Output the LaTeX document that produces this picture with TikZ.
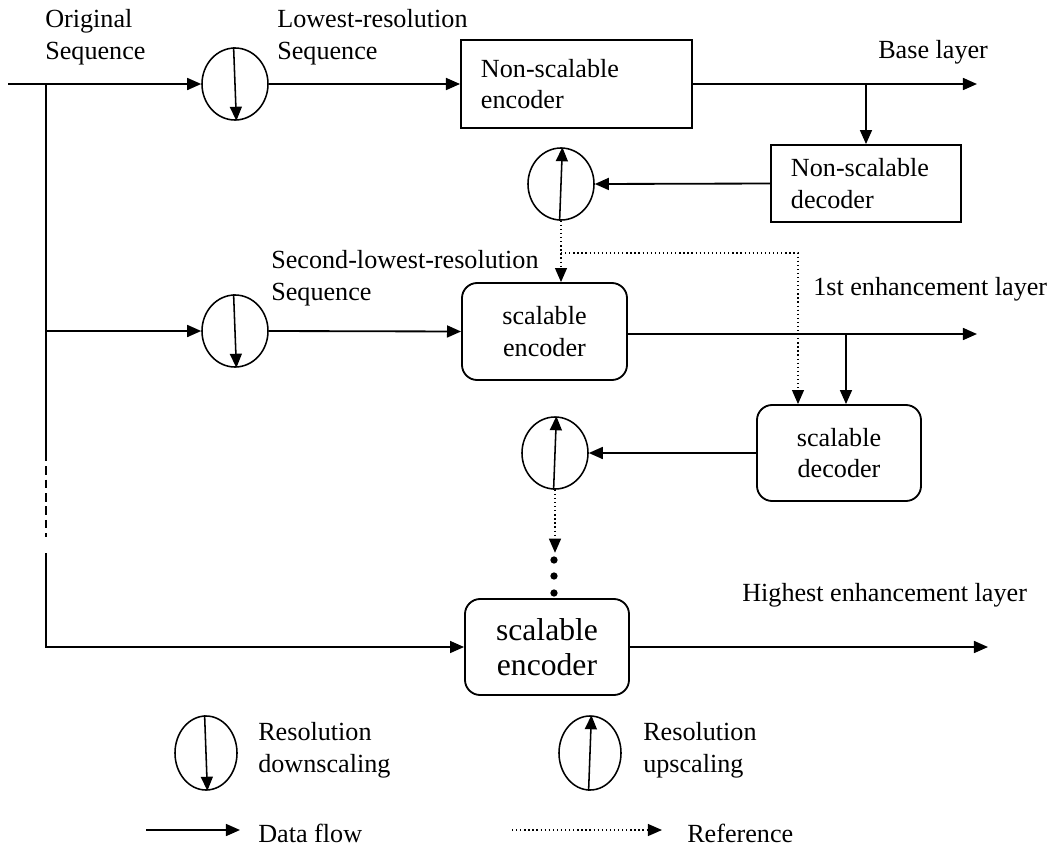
\documentclass[tikz,border=0pt]{standalone}
\usepackage{fontspec}
\setmainfont{Liberation Serif}
\usepackage{tikz}
\usetikzlibrary{arrows.meta,shapes.geometric}
\tikzset{>={Triangle[length=10pt,width=8.5pt]},
  every node/.style={font=\fontsize{18.6}{22.4}\selectfont},
  lbl/.style={anchor=west,align=left,inner sep=0pt},
  sqbox/.style={draw,line width=1.3pt,align=left,inner xsep=0.5cm,inner ysep=2pt},
  rbox/.style={draw,line width=1.3pt,rounded corners=0.38cm,align=center,minimum width=4.1cm,minimum height=2.4cm},
  scaler/.style={draw,ellipse,line width=1.1pt,inner sep=0pt,minimum width=1.65cm,minimum height=1.8cm}}
\tikzstyle{flow} = [line width=1.3pt,->]
\tikzstyle{refer} = [line width=0.9pt,dotted,->]
\tikzstyle{dashpart} = [line width=1.4pt,dash pattern=on 6pt off 3.5pt]

\begin{document}
\begin{tikzpicture}[x=0.025cm,y=-0.025cm]
% 固定画布大小
\useasboundingbox (0,0) rectangle (1055,850);
% 编码器与解码器
\node[sqbox,text width=4.775cm,minimum height=2.2cm] (encA) at (576.5,84) {Non-scalable\\encoder};
\node[sqbox,text width=3.75cm,minimum height=1.925cm] (decA) at (866,183.5) {Non-scalable\\decoder};
\node[rbox,minimum width=4.125cm,minimum height=2.425cm] (encB) at (544.5,331.5) {scalable\\encoder};
\node[rbox] (decB) at (839,453) {scalable\\decoder};
\node[rbox,font=\fontsize{22.5}{24.5}\selectfont] (encC) at (547,647) {scalable\\encoder};
% 分辨率缩放(椭圆)
\node[scaler] (dsA) at (235,84) {};
\node[scaler] (usA) at (561,184) {};
\node[scaler] (dsB) at (235,331) {};
\node[scaler] (usB) at (555,453) {};
\node[scaler,minimum width=1.55cm,minimum height=1.85cm] (dsKey) at (206,753) {};
\node[scaler,minimum width=1.55cm,minimum height=1.85cm] (usKey) at (590,753) {};
\foreach \s in {dsA,dsB,dsKey}
  \draw[->,line width=1.1pt] ([xshift=-1pt]\s.north) -- ([xshift=1pt]\s.south);
\foreach \s in {usA,usB,usKey}
  \draw[->,line width=1.1pt] ([xshift=-1pt]\s.south) -- ([xshift=1pt]\s.north);
% 文字标注
\node[lbl] (origL) at (45,37) {Original\\Sequence};
\node[lbl] (lowL) at (277,37) {Lowest-resolution\\Sequence};
\node[lbl] (baseL) at (878,52) {Base layer};
\node[lbl] (secL) at (271,278) {Second-lowest-resolution\\Sequence};
\node[lbl] (enh1L) at (813,289) {1st enhancement layer};
\node[lbl] (highL) at (742,595) {Highest enhancement layer};
\node[lbl] (dsKeyL) at (258,750) {Resolution\\downscaling};
\node[lbl] (usKeyL) at (643,750) {Resolution\\upscaling};
\node[lbl] (flowL) at (258,833) {Data flow};
\node[lbl] (refL) at (687,833) {Reference};
% 线的端点
\coordinate (src) at (8,84);
\coordinate (spl) at (46,84);
\coordinate (tapB) at (46,331);
\coordinate (dashTop) at (46,453);
\coordinate (dashBot) at (46,537);
\coordinate (solTop) at (46,553);
\coordinate (tapC) at (46,647);
\coordinate (baseEnd) at (977,84);
\coordinate (enh1End) at (977,334);
\coordinate (tapDecB) at (846,334);
\coordinate (highEnd) at (988,647);
\coordinate (refTurn) at (798,253);
% 基本层
\draw[flow] (src) -- (dsA.west);
\draw[flow] (dsA.east) -- (encA.west);
\draw[flow] (encA.east) -- (baseEnd);
\draw[flow] (decA.north |- encA.east) -- (decA.north);
\draw[flow] (decA.west) -- (usA.east);
\draw[refer] (usA.south) -- (usA.south |- encB.north);
\draw[refer] (usA.south |- refTurn) -- (refTurn) -- (refTurn |- decB.north);
% 左边的竖线
\draw[line width=1.3pt] (spl) -- (tapB) -- (dashTop);
\draw[dashpart] (dashTop) -- (dashBot);
\draw[flow] (solTop) -- (tapC) -- (encC.west);
% 第一增强层
\draw[flow] (tapB) -- (dsB.west);
\draw[flow] (dsB.east) -- (encB.west);
\draw[flow] (encB.east |- enh1End) -- (enh1End);
\draw[flow] (tapDecB) -- (tapDecB |- decB.north);
\draw[flow] (decB.west) -- (usB.east);
\draw[refer] (usB.south) -- ++(0,63) coordinate (refEnd);
\foreach \yy in {560,576,593}
  \fill (554,\yy) circle (2.6pt);
% 最高增强层
\draw[flow] (encC.east) -- (highEnd);
% 图例
\coordinate (keyFlowA) at (146,830);
\coordinate (keyFlowB) at (240,830);
\coordinate (keyRefA) at (512,830);
\coordinate (keyRefB) at (662,830);
\draw[flow] (keyFlowA) -- (keyFlowB);
\draw[refer] (keyRefA) -- (keyRefB);
\end{tikzpicture}
\end{document}
